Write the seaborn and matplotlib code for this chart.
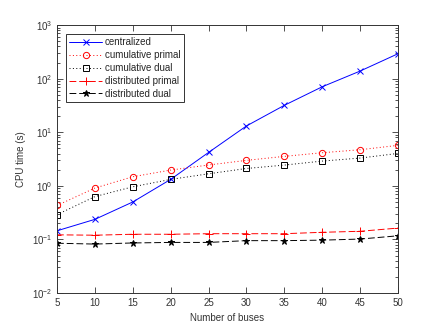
import matplotlib

matplotlib.use("Agg")

import matplotlib.pyplot as plt
import numpy as np
import pandas as pd
import seaborn as sns
from matplotlib.ticker import LogLocator, NullFormatter


buses = [5, 10, 15, 20, 25, 30, 35, 40, 45, 50]

centralized = [0.145, 0.237, 0.50, 1.32, 4.2, 13.1, 31.8, 70.6, 138.6, 292.0]
cumulative_primal = [0.43, 0.91, 1.48, 1.97, 2.45, 2.99, 3.55, 4.15, 4.72, 5.7]
cumulative_dual = [0.29, 0.63, 0.96, 1.32, 1.68, 2.11, 2.44, 2.9, 3.3, 4.03]
distributed_primal = [0.122, 0.12, 0.125, 0.125, 0.128, 0.128, 0.128, 0.136, 0.142, 0.163]
distributed_dual = [0.085, 0.082, 0.086, 0.088, 0.088, 0.095, 0.095, 0.097, 0.1017, 0.117]

series_names = [
    "centralized",
    "cumulative primal",
    "cumulative dual",
    "distributed primal",
    "distributed dual",
]

x_ticks = [5, 10, 15, 20, 25, 30, 35, 40, 45, 50]


sns.set_style("ticks")
plt.rcParams["font.family"] = ["Liberation Sans", "DejaVu Sans"]
plt.rcParams["mathtext.fontset"] = "custom"
plt.rcParams["mathtext.rm"] = "Liberation Sans"
plt.rcParams["xtick.direction"] = "in"
plt.rcParams["ytick.direction"] = "in"

data = pd.DataFrame(
    {
        "buses": buses * 5,
        "time": centralized
        + cumulative_primal
        + cumulative_dual
        + distributed_primal
        + distributed_dual,
        "series": np.repeat(series_names, len(buses)),
    }
)

# MATLAB-like line specs: b-x, r:o, k:s, r--+, k--*
styles = {
    "centralized": dict(color="#0000ff", marker="x", linestyle="-", fillstyle="full", size=4),
    "cumulative primal": dict(color="#ff0000", marker="o", linestyle=(0, (1, 2.5)), fillstyle="none", size=4.5),
    "cumulative dual": dict(color="#000000", marker="s", linestyle=(0, (1, 2.5)), fillstyle="none", size=4.5),
    "distributed primal": dict(color="#ff0000", marker="+", linestyle=(0, (7, 3)), fillstyle="full", size=6),
    "distributed dual": dict(color="#000000", marker="*", linestyle=(0, (7, 3)), fillstyle="full", size=4.5),
}

figure, axis = plt.subplots(figsize=(4.4, 3.3), dpi=100)
figure.subplots_adjust(left=0.1295, right=0.9045, bottom=0.112, top=0.924)

for name in series_names:
    subset = data[data["series"] == name]
    style = styles[name]
    sns.lineplot(
        data=subset,
        x="buses",
        y="time",
        ax=axis,
        label=name,
        color=style["color"],
        marker=style["marker"],
        linestyle=style["linestyle"],
        fillstyle=style["fillstyle"],
        markersize=style["size"],
        markeredgewidth=0.7,
        markeredgecolor=style["color"],
        linewidth=0.7,
    )

axis.set_yscale("log")
axis.set_xlim(5, 50)
axis.set_ylim(1e-2, 1e3)
axis.set_xticks(x_ticks)
axis.yaxis.set_major_locator(LogLocator(base=10, numticks=10))
axis.yaxis.set_minor_locator(LogLocator(base=10, subs=np.arange(2, 10), numticks=20))
axis.yaxis.set_minor_formatter(NullFormatter())

axis.tick_params(which="both", top=True, right=True, labelsize=7, colors="#333333", width=0.6)
axis.tick_params(which="major", length=4)
axis.tick_params(which="minor", length=2)
for spine in axis.spines.values():
    spine.set_visible(True)
    spine.set_color("#333333")
    spine.set_linewidth(0.7)

axis.set_xlabel("Number of buses", fontsize=7, color="#333333")
axis.set_ylabel("CPU time (s)", fontsize=7, color="#333333")

legend = axis.legend(
    loc="upper left",
    fontsize=7,
    fancybox=False,
    framealpha=1,
    edgecolor="#333333",
    handlelength=3.4,
    handletextpad=0.3,
    borderpad=0.35,
    labelspacing=0.3,
    borderaxespad=0.9,
)
legend.get_frame().set_linewidth(0.7)

plt.savefig("out.png", dpi=100)
plt.close()
